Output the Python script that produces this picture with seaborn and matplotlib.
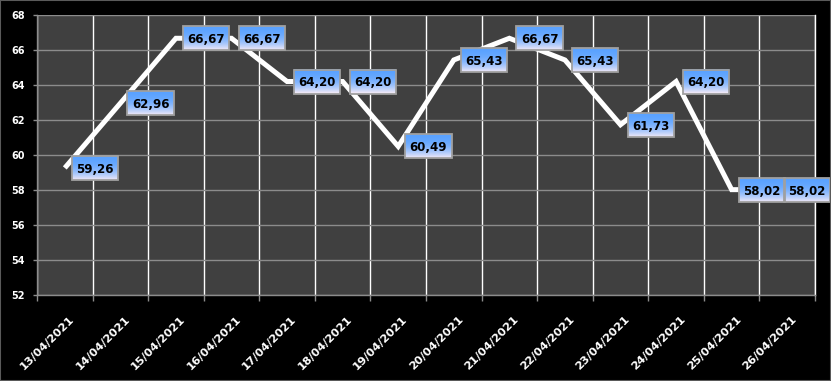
import numpy as np
import pandas as pd
import matplotlib
matplotlib.use("Agg")
import matplotlib.pyplot as plt
import seaborn as sns
from matplotlib.transforms import ScaledTranslation
from matplotlib.patches import Rectangle
from matplotlib.colors import to_rgb

dates = ["13/04/2021", "14/04/2021", "15/04/2021", "16/04/2021", "17/04/2021",
         "18/04/2021", "19/04/2021", "20/04/2021", "21/04/2021", "22/04/2021",
         "23/04/2021", "24/04/2021", "25/04/2021", "26/04/2021"]
values = [59.26, 62.96, 66.67, 66.67, 64.20, 64.20, 60.49,
          65.43, 66.67, 65.43, 61.73, 64.20, 58.02, 58.02]
y_ticks = [52, 54, 56, 58, 60, 62, 64, 66, 68]

df = pd.DataFrame({"pos": np.arange(len(dates)), "value": values})

sns.set_theme(style="dark")
plt.rcParams["font.family"] = ["DejaVu Sans"]

W, H = 831, 381
fig = plt.figure(figsize=(W / 100, H / 100), dpi=100, facecolor="black")
ax = fig.add_axes([37 / W, 1 - 295 / H, (815 - 37) / W, (295 - 15) / H])
ax.set_facecolor("#404040")

sns.lineplot(data=df, x="pos", y="value", ax=ax, color="white", linewidth=3.6,
             solid_joinstyle="miter", solid_capstyle="butt", zorder=3)

ax.set_xlim(-0.5, len(dates) - 0.5)
ax.set_ylim(y_ticks[0], y_ticks[-1])
ax.set_yticks(y_ticks)
ax.set_yticklabels([str(t) for t in y_ticks])
ax.set_xticks(np.arange(len(dates)))
ax.set_xticklabels(dates, rotation=45, ha="right", va="top", rotation_mode="anchor")
ax.set_xticks(np.arange(-0.5, len(dates), 1), minor=True)
ax.set_xlabel("")
ax.set_ylabel("")

ax.grid(False)
ax.yaxis.grid(True, color="#8c8c8c", linewidth=1)
ax.xaxis.grid(True, which="minor", color="white", linewidth=1)
ax.set_axisbelow(True)

ax.tick_params(axis="x", which="major", length=0, pad=14, labelsize=8.2, labelcolor="white")
ax.tick_params(axis="x", which="minor", length=4, width=1, color="#8c8c8c", bottom=True)
ax.tick_params(axis="y", length=3, width=1, color="#8c8c8c", pad=6, labelsize=7,
               labelcolor="white", left=True)
for lab in ax.get_xticklabels():
    lab.set_fontweight("bold")
    lab.set_transform(lab.get_transform() + ScaledTranslation(3 / 72, 0, fig.dpi_scale_trans))
for lab in ax.get_yticklabels():
    lab.set_fontweight("bold")

for side in ["left", "bottom"]:
    ax.spines[side].set_visible(True)
    ax.spines[side].set_color("#8c8c8c")
    ax.spines[side].set_linewidth(1)
ax.spines["top"].set_visible(False)
ax.spines["right"].set_visible(True)
ax.spines["right"].set_color("white")
ax.spines["right"].set_linewidth(1)

# figure frame
fig.add_artist(Rectangle((0, 0), 1, 1, transform=fig.transFigure, fill=False,
                         edgecolor="#5a5a5a", linewidth=1.5, zorder=10))

# data labels with gradient boxes (drawn as thin horizontal strips)
fig.canvas.draw()
r = fig.canvas.get_renderer()
inv = fig.transFigure.inverted()
top_c = np.array(to_rgb("#5aa2ff"))
bot_c = np.array(to_rgb("#f4eaf6"))
NSTRIP = 24

for i, v in enumerate(values):
    px, py = ax.transData.transform((i, v))
    s = f"{v:.2f}".replace(".", ",")
    t = fig.text(0, 0, s, fontsize=8.5, fontweight="bold")
    w = t.get_window_extent(r).width
    t.remove()
    bw = w + 9
    x0 = px + 7
    if x0 + bw > W - 1:
        x0 = W - 1 - bw
    x1 = x0 + bw
    y0, y1 = py - 12, py + 12
    fx0, fy0 = inv.transform((x0, y0))
    fx1, fy1 = inv.transform((x1, y1))
    hstrip = (fy1 - fy0) / NSTRIP
    for k in range(NSTRIP):
        frac = (k + 0.5) / NSTRIP  # 0 at top, 1 at bottom
        tt = frac ** 2.2
        col = top_c * (1 - tt) + bot_c * tt
        fig.add_artist(Rectangle((fx0, fy1 - (k + 1) * hstrip), fx1 - fx0, hstrip * 1.05,
                                 transform=fig.transFigure, facecolor=col,
                                 edgecolor="none", linewidth=0, zorder=5))
    fig.add_artist(Rectangle((fx0, fy0), fx1 - fx0, fy1 - fy0, transform=fig.transFigure,
                             fill=False, edgecolor="#a0a0a0", linewidth=1.3, zorder=6))
    fig.text((fx0 + fx1) / 2, (fy0 + fy1) / 2, s, ha="center", va="center_baseline",
             fontsize=8.5, fontweight="bold", color="black", zorder=7)

fig.savefig("out.png", dpi=100, facecolor="black")
